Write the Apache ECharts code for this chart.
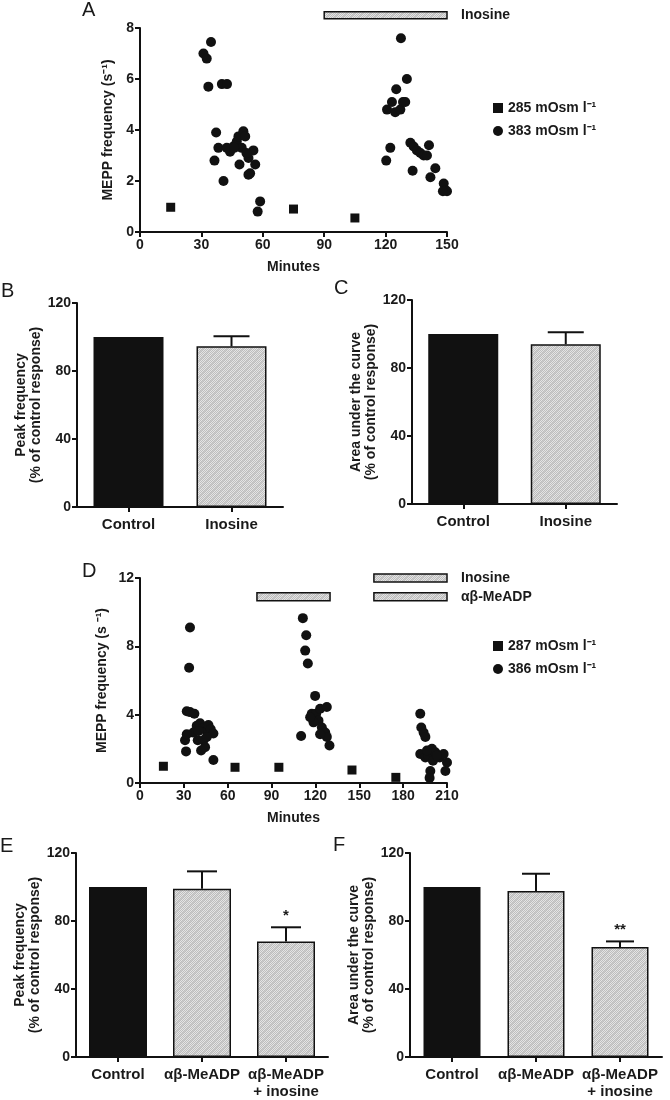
<!DOCTYPE html>
<html><head><meta charset="utf-8">
<script src="https://cdn.jsdelivr.net/npm/echarts@6/dist/echarts.min.js"></script>
<style>html,body{margin:0;padding:0;background:#fff}#c{width:670px;height:1100px}</style>
</head><body><div id="c"></div>
<script>
// ---------- DATA ----------
// Panel A
const aTicksX = [0, 30, 60, 90, 120, 150];
const aSqMin = [15, 75, 105];
const aSqFreq = [0.97, 0.9, 0.55];
const aCirMin = [31, 32.6, 34.7, 33.4, 40, 42.5, 37.2, 38.3, 36.4, 40.8, 44, 45.6, 47.3, 48.1, 49.7, 50.5, 51.4, 48.6, 53, 53.8, 53, 55.4, 56.3, 58.7, 57.5, 42.4, 46, 52,
  120.3, 122.3, 120.7, 123.1, 125.2, 124.7, 127.2, 128.5, 127.5, 130.4, 129.6, 132.1, 133.7, 135.3, 137, 138.6, 140.2, 141.2, 133.2, 141.9, 144.3, 148.4, 149.2, 150, 148];
const aCirFreq = [7.0, 6.8, 7.45, 5.7, 5.8, 5.8, 3.9, 3.3, 2.8, 2.0, 3.15, 3.35, 3.55, 3.75, 3.3, 3.95, 3.75, 2.65, 2.9, 2.3, 2.25, 3.2, 2.65, 1.2, 0.8, 3.3, 3.3, 3.1,
  2.8, 3.3, 4.8, 5.1, 5.6, 4.7, 4.8, 5.1, 7.6, 6.0, 5.1, 3.5, 3.35, 3.2, 3.1, 3.0, 3.0, 3.4, 2.4, 2.15, 2.5, 1.9, 1.65, 1.6, 1.6];
const aDrugStart = [90];
const aDrugEnd = [150];
const aDrugLevel = [8.5];
const aDrugNames = ['Inosine'];
const aLegend = ['285 mOsm l\u207B\u00B9', '383 mOsm l\u207B\u00B9'];

// Panel B / C
const bcCats = ['Control', 'Inosine'];
const bVals = [100, 94.5];
const bErr = [0, 6];
const cVals = [100, 94];
const cErr = [0, 7];

// Panel D
const dSqMin = [16, 65, 95, 145, 175];
const dSqFreq = [0.98, 0.92, 0.92, 0.76, 0.33];
const dCirMin = [34.2, 33.6, 32, 34.2, 37.2, 30.8, 31.5, 38.8, 41.1, 42.9, 39.5, 41.8, 43.4, 45.7, 46.8, 48.4, 50.2, 45.7, 50.2, 36.5, 40, 32, 44.5,
  111.4, 113.7, 113, 114.8, 119.8, 110.2, 117.5, 120.5, 123.2, 127.8, 122.1, 118.7, 124.4, 126.7, 127.8, 129.6, 123.2, 116.4,
  191.7, 192.4, 194, 195.2, 191.7, 195.2, 197.4, 199.7, 200.4, 198.6, 198.1, 202, 205, 207.7, 210, 208.9, 203.1, 196.3];
const dCirFreq = [9.1, 6.75, 4.2, 4.15, 4.05, 2.5, 1.85, 3.35, 3.5, 3.2, 2.5, 1.9, 2.5, 3.05, 3.4, 3.15, 2.9, 2.7, 1.35, 2.95, 3.05, 2.85, 2.1,
  9.65, 8.65, 7.75, 7.0, 5.1, 2.75, 4.05, 4.05, 4.35, 4.45, 3.65, 3.55, 3.25, 2.95, 2.7, 2.2, 2.85, 3.85,
  4.05, 3.25, 2.95, 2.7, 1.7, 1.5, 1.55, 2.0, 1.3, 0.7, 0.3, 1.8, 1.5, 1.7, 1.2, 0.7, 1.6, 1.9];
const dDrugStart = [160, 80, 160];
const dDrugEnd = [210, 130, 210];
const dDrugLevel = [12, 10.9, 10.9];
const dDrugNames = ['Inosine', '', '\u03B1\u03B2-MeADP'];
const dLegend = ['287 mOsm l\u207B\u00B9', '386 mOsm l\u207B\u00B9'];

// Panel E / F
const efCats = ['Control', '\u03B1\u03B2-MeADP', '\u03B1\u03B2-MeADP\n+ inosine'];
const eVals = [100, 99, 68];
const eErr = [0, 10.2, 8.3];
const eSig = ['', '', '*'];
const fVals = [100, 97.6, 64.7];
const fErr = [0, 10.2, 3.3];
const fSig = ['', '', '**'];

// ---------- STYLE ----------
const FONT = 'Liberation Sans, Arial, sans-serif';
const INK = '#111';
const TXT = '#1a1a1a';

function makePattern() {
  const c = document.createElement('canvas');
  c.width = 8; c.height = 8;
  const g = c.getContext('2d');
  g.fillStyle = '#e4e4e4'; g.fillRect(0, 0, 8, 8);
  g.fillStyle = '#bdbdbd';
  for (let y = 0; y < 8; y++) for (let x = 0; x < 8; x++) if ((x + y) % 2 === 0) g.fillRect(x, y, 1, 1);
  g.fillStyle = 'rgba(160,160,160,0.35)';
  for (let i = 0; i < 8; i++) g.fillRect(i, 7 - i, 1, 1);
  return c;
}
const PAT = { image: makePattern(), repeat: 'repeat' };

const chart = echarts.init(document.getElementById('c'), null, { renderer: 'canvas' });

const grids = [
  { left: 140, top: 28, width: 307, height: 204 },
  { left: 77, top: 303, width: 206, height: 204 },
  { left: 412, top: 300, width: 205, height: 204 },
  { left: 140, top: 578, width: 307, height: 205 },
  { left: 76, top: 853, width: 252, height: 204 },
  { left: 410, top: 853, width: 252, height: 204 }
];

const axisLine = { show: true, lineStyle: { color: INK, width: 2 } };
const axisTick = { show: true, length: 5, inside: false, lineStyle: { color: INK, width: 2 } };
const tickLbl = { color: TXT, fontFamily: FONT, fontWeight: 'bold', fontSize: 14, margin: 6 };
const nameStyle = { color: TXT, fontFamily: FONT, fontWeight: 'bold', fontSize: 14, lineHeight: 15 };

function valY(gi, max, interval, name, gap) {
  return { type: 'value', gridIndex: gi, min: 0, max: max, interval: interval, splitLine: { show: false },
    axisLine: axisLine, axisTick: axisTick, axisLabel: tickLbl, name: name, nameLocation: 'middle', nameGap: gap, nameTextStyle: nameStyle };
}
function minutesX(gi, max) {
  return { type: 'value', gridIndex: gi, min: 0, max: max, interval: 30, splitLine: { show: false },
    axisLine: Object.assign({ onZero: false }, axisLine), axisTick: axisTick, axisLabel: Object.assign({}, tickLbl, { margin: 6 }),
    name: 'Minutes', nameLocation: 'middle', nameGap: 28, nameTextStyle: nameStyle };
}
function catX(gi, cats) {
  return { type: 'category', gridIndex: gi, data: cats, splitLine: { show: false },
    axisLine: axisLine, axisTick: Object.assign({ alignWithLabel: true }, axisTick),
    axisLabel: Object.assign({}, tickLbl, { fontSize: 15, interval: 0, margin: 9, lineHeight: 17 }) };
}

function zip(a, b) { return a.map((v, i) => [v, b[i]]); }

function drugSeries(gi, starts, ends, levels, names, h) {
  return {
    type: 'custom', xAxisIndex: gi, yAxisIndex: gi, clip: false, silent: true,
    data: starts.map((s, i) => [s, ends[i], levels[i]]),
    renderItem: function (params, api) {
      const p1 = api.coord([api.value(0), api.value(2)]);
      const p2 = api.coord([api.value(1), api.value(2)]);
      const nm = names[params.dataIndex];
      const children = [{
        type: 'rect', shape: { x: p1[0], y: p1[1] - h / 2, width: p2[0] - p1[0], height: h },
        style: { fill: PAT, stroke: INK, lineWidth: 1.5 }
      }];
      if (nm) children.push({ type: 'text', x: p2[0] + 14, y: p1[1],
        style: { text: nm, fill: TXT, font: 'bold 14px ' + FONT, textVerticalAlign: 'middle', textAlign: 'left' } });
      return { type: 'group', children: children };
    }
  };
}

function barSeries(gi, vals, bw) {
  return {
    type: 'bar', xAxisIndex: gi, yAxisIndex: gi, barWidth: bw, silent: true,
    data: vals.map((v, i) => ({ value: v, itemStyle: i === 0 ? { color: INK, borderColor: INK, borderWidth: 1.5 } : { color: PAT, borderColor: INK, borderWidth: 1.5 } }))
  };
}
function errSeries(gi, vals, errs, sig, capW) {
  return {
    type: 'custom', xAxisIndex: gi, yAxisIndex: gi, clip: false, silent: true, z: 5,
    data: vals.map((v, i) => [i, v, errs[i]]),
    renderItem: function (params, api) {
      const i = api.value(0), v = api.value(1), e = api.value(2);
      const children = [];
      const b = api.coord([i, v]);
      const t = api.coord([i, v + e]);
      if (e > 0) {
        children.push({ type: 'line', shape: { x1: b[0], y1: b[1], x2: t[0], y2: t[1] }, style: { stroke: INK, lineWidth: 2 } });
        children.push({ type: 'line', shape: { x1: t[0] - capW / 2, y1: t[1], x2: t[0] + capW / 2, y2: t[1] }, style: { stroke: INK, lineWidth: 2 } });
      }
      const s = sig ? sig[params.dataIndex] : '';
      if (s) children.push({ type: 'text', x: t[0], y: t[1] - 4,
        style: { text: s, fill: TXT, font: 'bold 15px ' + FONT, textAlign: 'center', textVerticalAlign: 'bottom' } });
      return { type: 'group', children: children };
    }
  };
}

function scatter(gi, name, xs, ys, sym, size) {
  return { type: 'scatter', name: name, xAxisIndex: gi, yAxisIndex: gi, symbol: sym, symbolSize: size, silent: true,
    itemStyle: { color: INK, opacity: 1 }, data: zip(xs, ys) };
}

function panelTitle(t, left, top) {
  return { text: t, left: left, top: top, padding: 0, textStyle: { fontFamily: FONT, fontSize: 20, fontWeight: 'normal', color: TXT } };
}

const legendText = { color: TXT, fontFamily: FONT, fontWeight: 'bold', fontSize: 14 };

const option = {
  backgroundColor: '#fff',
  animation: false,
  title: [
    panelTitle('A', 82, 0), panelTitle('B', 1, 281), panelTitle('C', 334, 278),
    panelTitle('D', 82, 561), panelTitle('E', 0, 836), panelTitle('F', 333, 835)
  ],
  legend: [
    { data: aLegend, left: 488, top: 96, orient: 'vertical', itemWidth: 10, itemHeight: 10, itemGap: 9, textStyle: legendText, selectedMode: false },
    { data: dLegend, left: 488, top: 634, orient: 'vertical', itemWidth: 10, itemHeight: 10, itemGap: 9, textStyle: legendText, selectedMode: false }
  ],
  grid: grids,
  xAxis: [minutesX(0, 150), catX(1, bcCats), catX(2, bcCats), minutesX(3, 210), catX(4, efCats), catX(5, efCats)],
  yAxis: [
    valY(0, 8, 2, 'MEPP frequency (s\u207B\u00B9)', 24),
    valY(1, 120, 40, 'Peak frequency\n(% of control response)', 32),
    valY(2, 120, 40, 'Area under the curve\n(% of control response)', 32),
    valY(3, 12, 4, 'MEPP frequency (s \u207B\u00B9)', 30),
    valY(4, 120, 40, 'Peak frequency\n(% of control response)', 32),
    valY(5, 120, 40, 'Area under the curve\n(% of control response)', 32)
  ],
  series: [
    scatter(0, aLegend[0], aSqMin, aSqFreq, 'rect', 9),
    scatter(0, aLegend[1], aCirMin, aCirFreq, 'circle', 10),
    drugSeries(0, aDrugStart, aDrugEnd, aDrugLevel, aDrugNames, 7),
    barSeries(1, bVals, 70), errSeries(1, bVals, bErr, null, 36),
    barSeries(2, cVals, 70), errSeries(2, cVals, cErr, null, 36),
    scatter(3, dLegend[0], dSqMin, dSqFreq, 'rect', 9),
    scatter(3, dLegend[1], dCirMin, dCirFreq, 'circle', 10),
    drugSeries(3, dDrugStart, dDrugEnd, dDrugLevel, dDrugNames, 8),
    barSeries(4, eVals, 58), errSeries(4, eVals, eErr, eSig, 30),
    barSeries(5, fVals, 57), errSeries(5, fVals, fErr, fSig, 28)
  ]
};
chart.setOption(option);
</script>
</body></html>
